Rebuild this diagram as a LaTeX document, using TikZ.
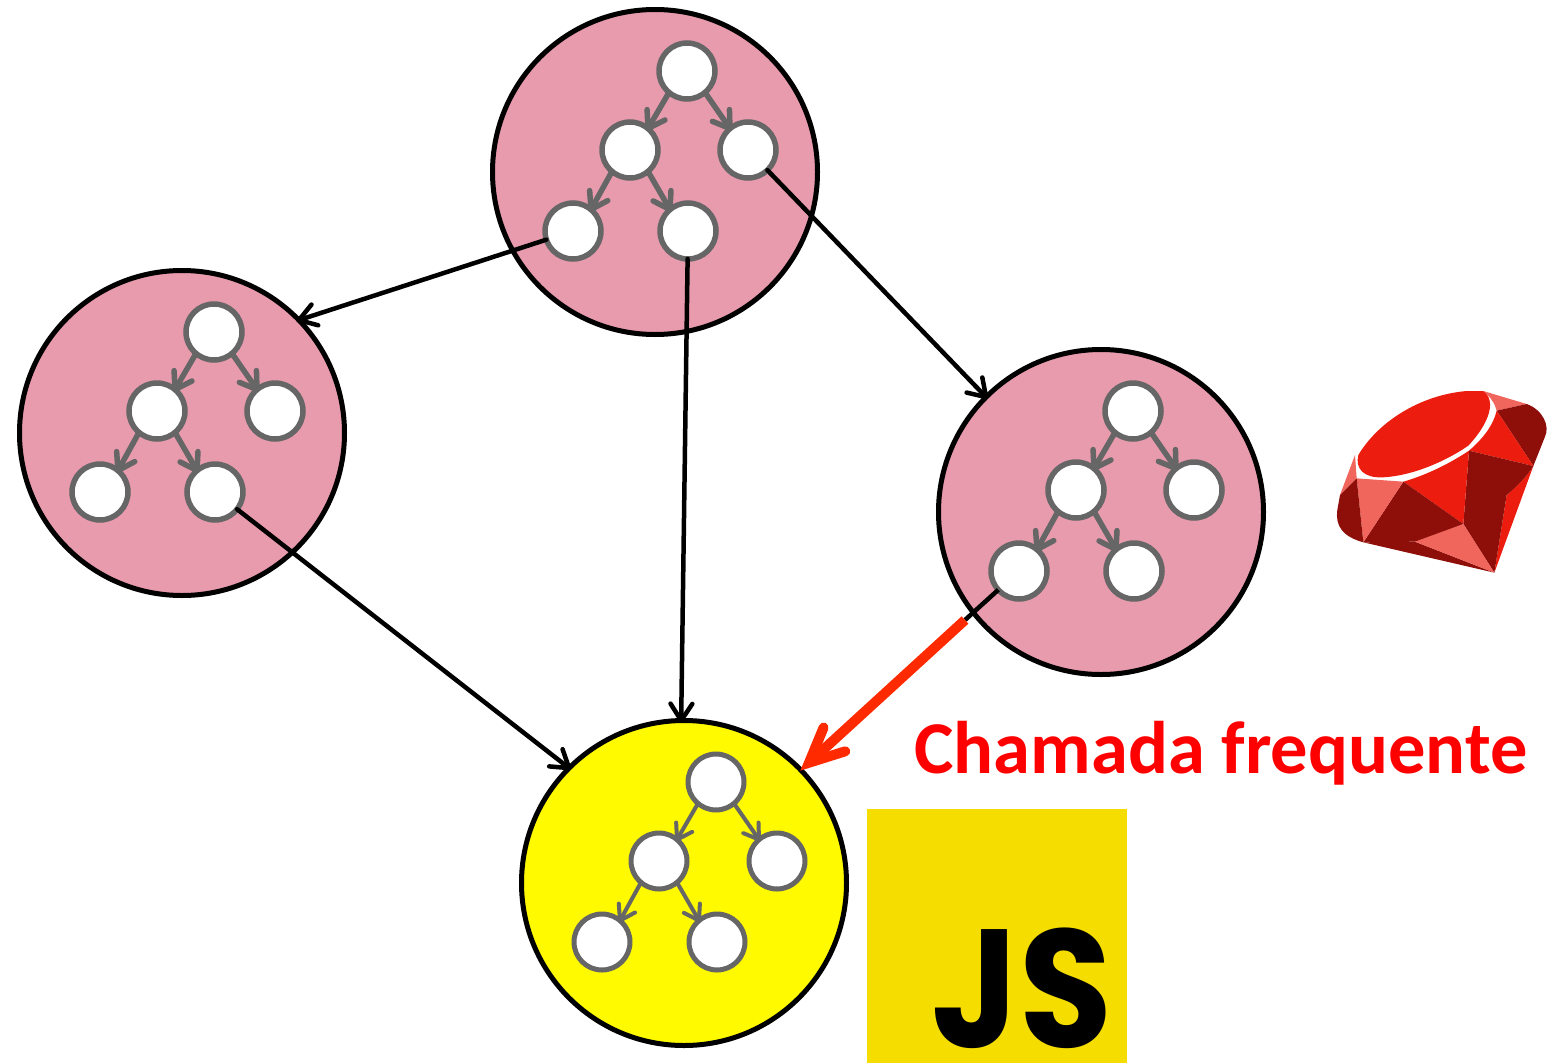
\documentclass[tikz,border=0pt]{standalone}
\usepackage{fontspec}
\setmainfont{Carlito}
\newfontfamily\jsfont{Poppins}
\usetikzlibrary{calc}
\definecolor{pinkfill}{HTML}{E99BAE}
\definecolor{yellowfill}{HTML}{FFFA00}
\definecolor{treegrey}{HTML}{666666}
\definecolor{redline}{HTML}{FF2A00}
\definecolor{jsyellow}{HTML}{F5DD00}
\definecolor{rubybright}{HTML}{EC1D0E}
\definecolor{rubydark}{HTML}{8E0F0A}
\definecolor{rubylight}{HTML}{F0655C}
\tikzset{
  x=1pt,y=-1pt,
  bigcircle/.style={circle,draw=black,line width=5pt,minimum size=325pt,inner sep=0pt,outer sep=0pt},
  treenode/.style={circle,draw=treegrey,fill=white,line width=#1,minimum size=56pt,inner sep=0pt,outer sep=0pt},
  treearrow/.style={draw=treegrey,line width=#1,line cap=round,line join=round},
  linkarrow/.style={draw=black,line width=4.5pt,line cap=round,line join=round},
  hotarrow/.style={draw=redline,line width=10pt,line cap=round,line join=miter},
  hotlink/.style={draw=black,line width=4.5pt},
}
% style, from, tip, barb length, barb half-angle
\newcommand{\barbline}[5]{%
  \draw[#1] (#2) -- (#3);
  \draw[#1] ($(#3)!#4!#5:(#2)$) -- (#3) -- ($(#3)!#4!-#5:(#2)$);
}
\newcommand{\treegroup}[7]{%
  % name, x, y, fill, node line, arrow line, barb length
  \node[bigcircle,fill=#4] (#1) at (#2,#3) {};
  \node[treenode=#5] (#1root) at (#2+32,#3-101) {};
  \node[treenode=#5] (#1l) at (#2-25,#3-22) {};
  \node[treenode=#5] (#1r) at (#2+93,#3-22) {};
  \node[treenode=#5] (#1ll) at (#2-82,#3+59) {};
  \node[treenode=#5] (#1lr) at (#2+33,#3+59) {};
  \barbline{treearrow=#6}{#1root.230}{#1l.50}{#7}{33}
  \barbline{treearrow=#6}{#1root.310}{#1r.130}{#7}{33}
  \barbline{treearrow=#6}{#1l.230}{#1ll.50}{#7}{33}
  \barbline{treearrow=#6}{#1l.310}{#1lr.130}{#7}{33}
}
\begin{document}
\begin{tikzpicture}
\useasboundingbox (0,0) rectangle (1551,1063);
\treegroup{top}{655}{172}{pinkfill}{5.5pt}{5.5pt}{19pt}
\treegroup{left}{182}{433}{pinkfill}{5.5pt}{5.5pt}{19pt}
\treegroup{right}{1101}{512}{pinkfill}{5.5pt}{5.5pt}{19pt}
\treegroup{bottom}{684}{883}{yellowfill}{5pt}{4pt}{17pt}
\draw[linkarrow] (topll) -- (left.44);
\draw[linkarrow] (toplr) -- (bottom.91);
\draw[linkarrow] (topr) -- (right.135);
\draw[linkarrow] (leftlr) -- (bottom.135);
\coordinate (bend) at (965,620);
\draw[linkarrow] ($(left.44)!20pt!33:(topll)$) -- (left.44) -- ($(left.44)!20pt!-33:(topll)$);
\draw[linkarrow] ($(bottom.91)!20pt!33:(toplr)$) -- (bottom.91) -- ($(bottom.91)!20pt!-33:(toplr)$);
\draw[linkarrow] ($(right.135)!20pt!33:(topr)$) -- (right.135) -- ($(right.135)!20pt!-33:(topr)$);
\draw[linkarrow] ($(bottom.135)!20pt!33:(leftlr)$) -- (bottom.135) -- ($(bottom.135)!20pt!-33:(leftlr)$);
\draw[hotlink] (rightll) -- (bend);
\coordinate (hottip) at ($(bottom.44)!11pt!(bend)$);
\draw[draw=redline,line width=10pt] (bend) -- (hottip);
\draw[hotarrow] ($(hottip)!38pt!25:(bend)$) -- (hottip) -- ($(hottip)!38pt!-25:(bend)$);
\node[anchor=base,text=red,font=\bfseries\fontsize{74.5}{74.5}\selectfont,inner sep=0pt] (label) at (1221,773) {Chamada frequente};
\node[fill=jsyellow,minimum width=260pt,minimum height=254pt,inner sep=0pt,outer sep=0pt] (jsbox) at (997,936) {};
\node[anchor=base,text=black,font=\jsfont\bfseries\fontsize{168}{168}\selectfont,inner sep=0pt,xscale=0.9] (jstext) at (1022,1047) {JS};
\begin{scope}[shift={(1320,380)},x=0.33333pt,y=-0.33333pt]
  \fill[rubybright] (115,225) .. controls (175,125) and (300,45) .. (440,33) -- (490,33) .. controls (528,60) and (512,125) .. (445,197) .. controls (380,242) and (280,287) .. (190,292) .. controls (130,295) and (105,265) .. (115,225) -- cycle;
  \fill[rubylight] (490,33) -- (620,72) -- (530,92) .. controls (525,70) and (510,50) .. (490,33) -- cycle;
  \fill[rubydark] (530,92) -- (620,72) .. controls (670,90) and (690,140) .. (675,170) -- (640,258) -- cycle;
  \fill[rubybright] (530,92) -- (640,258) -- (447,212) .. controls (490,175) and (520,135) .. (530,92) -- cycle;
  \fill[rubybright] (640,258) -- (523,578) -- (560,345) .. controls (590,320) and (620,290) .. (640,258) -- cycle;
  \fill[rubydark] (447,212) -- (640,258) .. controls (620,290) and (590,320) .. (560,345) -- (523,578) -- (430,432) -- cycle;
  \fill[rubybright] (250,305) .. controls (320,285) and (390,250) .. (447,212) -- (430,432) -- cycle;
  \fill[rubydark] (250,305) -- (430,432) .. controls (385,460) and (335,478) .. (285,485) -- (130,487) -- cycle;
  \fill[rubydark] (130,487) -- (285,485) -- (523,578) -- cycle;
  \fill[rubylight] (285,485) -- (430,432) -- (523,578) -- cycle;
  \fill[rubylight] (110,295) -- (250,305) -- (130,487) -- cycle;
  \fill[rubylight] (105,225) -- (110,295) -- (60,345) -- cycle;
  \fill[rubydark] (60,345) -- (110,295) -- (130,487) .. controls (70,470) and (45,440) .. (52,390) -- cycle;
\end{scope}
\end{tikzpicture}
\end{document}
